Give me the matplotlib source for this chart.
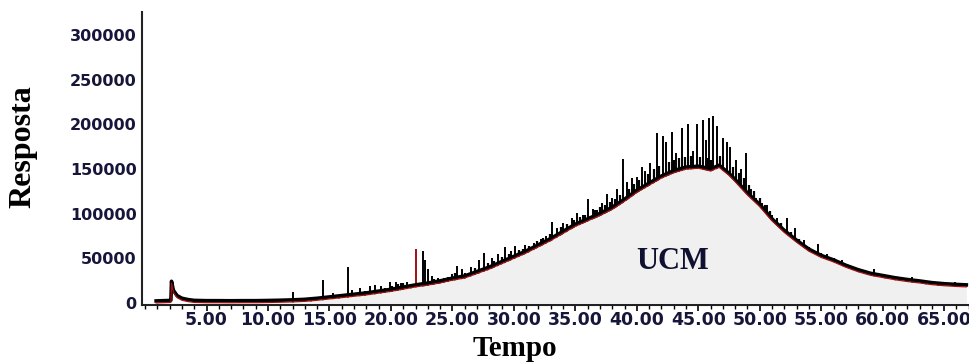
import matplotlib.pyplot as plt
import matplotlib.transforms as mtransforms
from matplotlib.ticker import MultipleLocator

# baseline hump (red trace / top of the grey area), minutes -> response
env_t = [0.9, 1.5, 2.0, 2.1, 2.15, 2.3, 2.6, 3.0, 3.5, 4.0, 5, 6, 7, 8, 9, 10,
         11, 12, 13, 14, 15, 16, 17, 18, 19, 20, 21, 22, 23, 24, 25, 26, 27, 28,
         29, 30, 31, 32, 33, 34, 35, 36, 37, 38, 39, 40, 41, 42, 43, 44, 45, 46,
         46.7, 47.5, 48, 49, 50, 51, 52, 53, 54, 55, 56, 57, 58, 59, 60, 61, 62,
         63, 64, 65, 66, 66.8]
env_y = [0, 300, 500, 800, 22000, 12000, 6000, 3000, 1500, 600, 300, 300, 200,
         300, 300, 500, 800, 1200, 1800, 3000, 4500, 6000, 7500, 9000, 11000,
         13000, 15500, 18000, 20000, 22500, 25500, 28000, 33000, 38000, 44000,
         50000, 56000, 63000, 70000, 78000, 86000, 92000, 98000, 105000, 114000,
         124000, 132000, 140000, 146000, 150000, 151000, 148000, 152000, 143000,
         136000, 121000, 108000, 92000, 79000, 68000, 58000, 51000, 46000, 40000,
         35000, 31000, 28500, 26000, 24000, 22400, 20500, 19300, 18500, 18000]

# resolved peaks sitting on the hump
peak_t = [4.6, 7.6, 9.7, 12.0, 12.9, 14.5, 15.3, 16.5, 16.8, 17.5, 18.3, 18.7,
          19.2, 19.9, 20.4, 20.8, 21.3, 22.6, 22.8, 23.0, 23.3, 23.8, 24.3, 25.0,
          25.4, 25.8, 26.5, 27.2, 27.6, 28.2, 28.7, 29.3, 29.8, 30.1, 30.9, 31.6,
          32.2, 32.6, 33.1, 33.5, 34.0, 34.7, 35.1, 35.6, 36.0, 36.4, 36.8, 37.2,
          37.6, 38.0, 38.4, 38.9, 39.2, 39.6, 40.0, 40.4, 40.7, 41.1, 41.6, 42.1,
          42.4, 42.9, 43.2, 43.7, 44.2, 44.6, 44.9, 45.4, 45.6, 45.9, 46.2, 46.5,
          47.0, 47.3, 47.6, 48.1, 48.5, 48.9, 49.3, 49.7, 50.2, 50.6, 51.0, 51.4,
          52.2, 52.9, 53.6, 54.7, 55.5, 56.7, 57.5, 59.3, 60.2, 62.4, 63.5, 65.9]
peak_y = [3400, 1800, 1800, 12000, 5600, 26000, 11000, 40000, 15000, 17000,
          19000, 20000, 19000, 23500, 23500, 22000, 23500, 58000, 48000, 38000,
          30000, 28000, 28000, 32000, 41000, 38000, 40000, 48000, 56000, 50000,
          55000, 63000, 58000, 64000, 65000, 67000, 72000, 75000, 91000, 84000,
          90000, 95000, 101000, 98000, 117000, 105000, 104000, 112000, 122000,
          118000, 128000, 161000, 135000, 140000, 141000, 152000, 148000, 157000,
          190000, 187000, 180000, 192000, 168000, 196000, 200000, 170000, 201000,
          205000, 183000, 207000, 210000, 198000, 185000, 180000, 175000, 160000,
          150000, 168000, 128000, 118000, 112000, 110000, 98000, 95000, 95000,
          84000, 70000, 66000, 55000, 48000, 41000, 38000, 31000, 29000, 24500,
          23500]
red_peak_t = [22.0]
red_peak_y = [61000]

# small unresolved peaks that make the trace look ragged
minor_t = [13.5, 15.8, 17.9, 19.5, 20.1, 20.6, 21.0, 21.6, 23.5, 24.0, 24.6,
           25.2, 26.0, 26.8, 27.9, 28.4, 29.0, 29.6, 30.4, 30.7, 31.2, 31.9,
           32.4, 32.9, 33.8, 34.3, 34.9, 35.4, 35.8, 36.6, 37.0, 37.4, 37.8,
           38.2, 38.6, 39.4, 39.8, 40.2, 40.9, 41.4, 41.8, 42.6, 43.0, 43.4,
           43.9, 44.4, 45.1, 45.8, 46.0, 46.8, 47.8, 48.3, 48.7, 49.1, 49.5,
           50.0, 50.4, 50.8, 51.7, 52.5, 53.2, 54.0, 55.0, 56.0, 58.0, 61.0, 64.5]
minor_y = [5000, 9000, 13000, 17000, 19000, 21000, 22000, 21000, 27000, 26000,
           29000, 33000, 34000, 39000, 45000, 47000, 52000, 55000, 59000, 61000,
           64000, 69000, 73000, 77000, 85000, 88000, 93000, 96000, 99000, 104000,
           107000, 110000, 113000, 116000, 121000, 128000, 133000, 138000,
           145000, 150000, 153000, 158000, 160000, 162000, 163000, 165000,
           163000, 162000, 160000, 165000, 152000, 146000, 140000, 132000,
           125000, 118000, 110000, 103000, 90000, 80000, 72000, 63000, 56000,
           50000, 39000, 29000, 22500]

x_ticks = [5, 10, 15, 20, 25, 30, 35, 40, 45, 50, 55, 60, 65]
x_labels = ['5.00', '10.00', '15.00', '20.00', '25.00', '30.00', '35.00',
            '40.00', '45.00', '50.00', '55.00', '60.00', '65.00']
y_ticks = [0, 50000, 100000, 150000, 200000, 250000, 300000]

lab_color = '#16163a'

fig = plt.figure(figsize=(9.7, 3.63), dpi=100)
ax = fig.add_axes([0.1464, 0.1598, 0.8536, 0.807])

ax.vlines(peak_t, 0, peak_y, color='black', lw=1.4, zorder=1)
ax.vlines(minor_t, 0, minor_y, color='black', lw=1.6, zorder=1)
ax.vlines(red_peak_t, 0, red_peak_y, color='#a01010', lw=1.4, zorder=1)
ax.fill_between(env_t, 0, env_y, where=[t >= 9 for t in env_t],
                color='#f0f0f0', lw=0, zorder=2)

up = mtransforms.offset_copy(ax.transData, fig=fig, x=0, y=2.0, units='dots')
ax.plot(env_t, env_y, color='black', lw=2.6, transform=up, zorder=3)
ax.plot(env_t, env_y, color='#a01010', lw=0.9, zorder=4)

ax.text(42.9, 47000, 'UCM', family='Liberation Serif', fontweight='bold',
        fontsize=22, color='#101030', ha='center', va='center', zorder=5)

ax.set_xlim(-0.25, 67.1)
ax.set_ylim(-2300, 326000)

ax.set_xticks(x_ticks)
ax.set_xticklabels(x_labels)
ax.xaxis.set_minor_locator(MultipleLocator(1))
ax.set_yticks(y_ticks)
ax.set_yticklabels([str(v) for v in y_ticks])

for lab in ax.get_xticklabels():
    lab.set_bbox(dict(facecolor='white', edgecolor='none', pad=0))
ax.tick_params(axis='x', which='major', length=4, width=1.2, pad=0,
               labelsize=12.5, labelcolor=lab_color)
ax.tick_params(axis='x', which='minor', length=3, width=1.0)
ax.tick_params(axis='y', length=0, pad=4, labelsize=11.5, labelcolor=lab_color)
for lab in ax.get_xticklabels() + ax.get_yticklabels():
    lab.set_fontweight('bold')
    lab.set_family('DejaVu Sans')

for s in ['top', 'right']:
    ax.spines[s].set_visible(False)
ax.spines['left'].set_linewidth(1.5)
ax.spines['bottom'].set_linewidth(1.5)
ax.spines['left'].set_color('#222222')
ax.spines['bottom'].set_color('#222222')

fig.text(0.531, 0.04, 'Tempo', family='Liberation Serif', fontweight='bold',
         fontsize=21, ha='center', va='center')
fig.text(0.024, 0.595, 'Resposta', family='Liberation Serif', fontweight='bold',
         fontsize=23, rotation=90, ha='center', va='center')

fig.savefig('out.png', dpi=100)
